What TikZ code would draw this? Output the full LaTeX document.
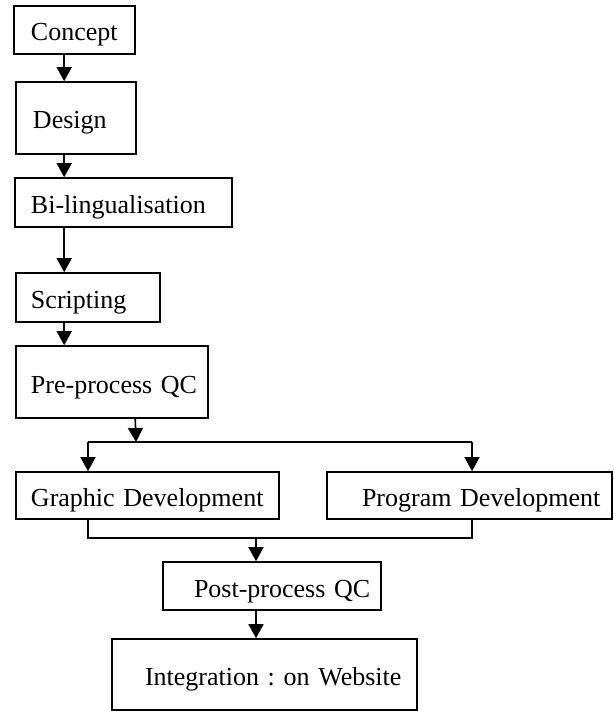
\documentclass[tikz,border=0pt]{standalone}
\usepackage{fontspec}
\setmainfont{Liberation Serif}
\usetikzlibrary{arrows.meta}
\begin{document}
\begin{tikzpicture}[x=1pt,y=-1pt,
  box/.style={draw, line width=1.6pt, inner xsep=0pt, inner ysep=0pt, align=left,
    text height=22pt, text depth=0pt,
    font=\fontsize{26}{30}\selectfont\frenchspacing},
  arr/.style={line width=1.6pt, -{Triangle[width=15pt,length=14pt]}},
  ln/.style={line width=1.6pt}]
\useasboundingbox (0,0) rectangle (613,711);
% boxes: center x, center y, width, height
\node[box, text width=121pt, minimum height=48pt] (concept) at (74.5,30) {\hspace*{17pt}Concept};
\node[box, text width=120pt, minimum height=72pt] (design) at (76,118) {\hspace*{17pt}Design};
\node[box, text width=217pt, minimum height=49pt] (bil) at (123.5,202.5) {\hspace*{16pt}Bi-lingualisation};
\node[box, text width=144pt, minimum height=49pt] (script) at (88,297.5) {\hspace*{15pt}Scripting};
\node[box, text width=192pt, minimum height=72pt] (preqc) at (112,382) {\hspace*{15pt}Pre-process QC};
\node[box, text width=263pt, minimum height=47pt] (graphic) at (147.5,495.5) {\hspace*{15pt}Graphic Development};
\node[box, text width=285pt, minimum height=47pt] (program) at (469.5,495.5) {\hspace*{35pt}Program Development};
\node[box, text width=218pt, minimum height=48pt] (postqc) at (272,586) {\hspace*{31pt}Post-process QC};
\node[box, text width=305pt, minimum height=71pt] (integ) at (264.5,674.5) {\hspace*{33pt}Integration : on Website};
% connectors
\draw[arr] ([xshift=51pt]concept.south west) -- ([xshift=49pt]design.north west);
\draw[arr] ([xshift=49pt]design.south west) -- ([xshift=50pt]bil.north west);
\draw[arr] ([xshift=50pt]bil.south west) -- ([xshift=49pt]script.north west);
\draw[arr] ([xshift=49pt]script.south west) -- ([xshift=49pt]preqc.north west);
\coordinate (split) at (136,442);
\coordinate (sl) at (88,442);
\coordinate (sr) at (472,442);
\draw[arr] ([xshift=120pt]preqc.south west) -- (split);
\draw[ln] (sl) -- (sr);
\draw[arr] (sl) -- (sl |- graphic.north);
\draw[arr] (sr) -- (sr |- program.north);
\coordinate (jl) at (88,538);
\coordinate (jr) at (472,538);
\coordinate (jm) at (256,538);
\draw[ln] (jl |- graphic.south) -- (jl) -- (jr) -- (jr |- program.south);
\draw[arr] (jm) -- (jm |- postqc.north);
\draw[arr] (jm |- postqc.south) -- (jm |- integ.north);
\end{tikzpicture}
\end{document}
